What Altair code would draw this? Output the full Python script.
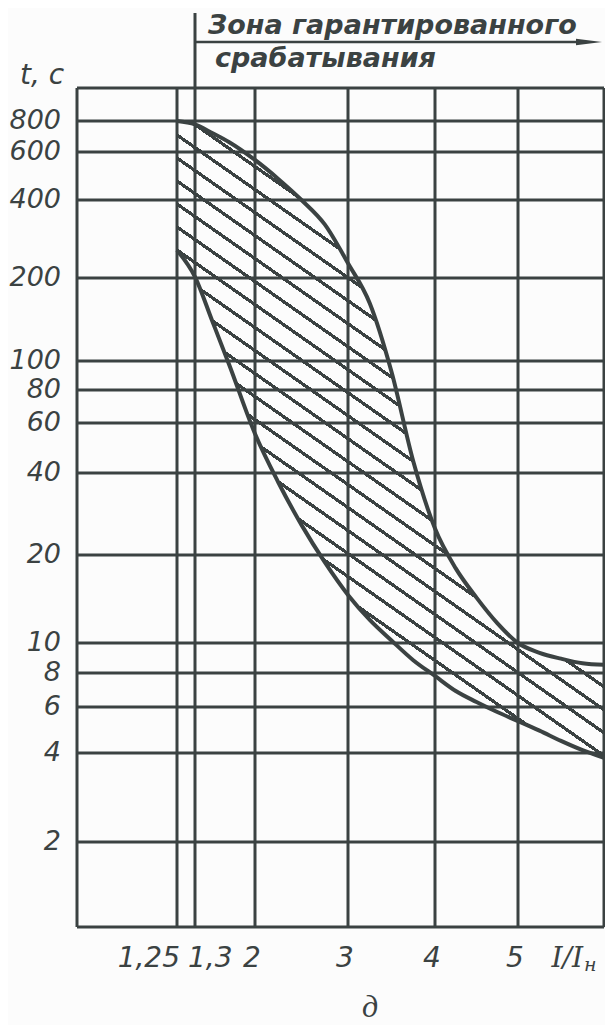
import altair as alt
import pandas as pd

# ---------------- data ----------------
ratio = [1.25, 1.3, 1.5, 1.7, 2.0, 2.25, 2.5, 2.75, 3.0, 3.25, 3.5, 3.75,
         4.0, 4.25, 4.5, 4.75, 5.0, 5.25, 5.5, 5.75, 6.0]
t_max = [800, 775, 716, 657, 561, 478, 400, 322, 228, 162, 92, 44,
         25, 18, 14.3, 11.7, 10, 9.3, 8.9, 8.6, 8.5]
t_min = [256, 202, 140, 97, 55, 37, 25.8, 18.9, 14.6, 12, 10.2, 8.8,
         7.8, 6.87, 6.26, 5.74, 5.3, 4.87, 4.45, 4.1, 3.85]

x_ticks = [1.25, 1.3, 2, 3, 4, 5]
x_tick_labels = ["1,25", "1,3", "2", "3", "4", "5"]
y_ticks = [2, 4, 6, 8, 10, 20, 40, 60, 80, 100, 200, 400, 600, 800]
y_tick_labels = ["2", "4", "6", "8", "10", "20", "40", "60", "80", "100",
                 "200", "400", "600", "800"]
x_grid = [1.0, 1.25, 1.3, 2, 3, 4, 5, 6]
y_grid = [1, 2, 4, 6, 8, 10, 20, 40, 60, 80, 100, 200, 400, 600, 800, 1000]

title_1 = "Зона гарантированного"
title_2 = "срабатывания"
y_title = "t, с"
x_title = "I/I"
x_title_sub = "н"
panel = "д"

# ---------------- style ----------------
INK = "#3b4242"
BG = "#fcfcfc"
W, H = 527, 839
GRID_W = 3

# hand-drawn (non-uniform) axes: piecewise scales
x_scale = alt.Scale(type="linear", domain=x_grid,
                    range=[0, 100, 118, 178, 271, 358, 441, W],
                    nice=False, zero=False)
y_scale = alt.Scale(type="log", domain=y_grid,
                    range=[839, 754, 665, 619, 585, 555, 467, 385, 335, 302,
                           273, 190, 112, 64, 33, 0],
                    nice=False)

# hatch pattern as a striped linear gradient (objectBoundingBox units)
hatch_slope = 0.7       # dy/dx in pixels
hatch_period = 23.0     # vertical distance between hatch lines, px
hatch_thick = 4.0       # vertical thickness of a hatch line, px
bw, bh = 427.0, 637.0   # approx. bounding box of the hatched zone, px
vx = hatch_slope * bw / bh
vy = -1.0
s = (1 + vx) / (vx * vx + 1)
gx, gy = vx * s, vy * s
dt_per_px = abs(gy) / (bh * (gx * gx + gy * gy))
period_t = hatch_period * dt_per_px
thick_t = hatch_thick * dt_per_px
stops = []
clear = "rgba(59,66,66,0)"
k = 0.0
while k < 1.0:
    b = min(k + thick_t, 1.0)
    stops += [alt.GradientStop(offset=k, color=INK),
              alt.GradientStop(offset=b, color=INK),
              alt.GradientStop(offset=b, color=clear),
              alt.GradientStop(offset=min(k + period_t, 1.0), color=clear)]
    k += period_t
hatch = alt.LinearGradient(gradient="linear", stops=stops,
                           x1=0, y1=1, x2=gx, y2=1 + gy)

df = pd.DataFrame({"x": ratio, "upper": t_max, "lower": t_min})
xt = pd.DataFrame({"v": x_ticks, "lab": x_tick_labels})
yt = pd.DataFrame({"v": y_ticks, "lab": y_tick_labels})

num_font = "DejaVu Sans"


def X(field):
    return alt.X(field, scale=x_scale, axis=None)


def Y(field):
    return alt.Y(field, scale=y_scale, axis=None)


vgrid = alt.Chart(pd.DataFrame({"x": x_grid})).mark_rule(
    color=INK, strokeWidth=GRID_W).encode(x=X("x:Q"))
hgrid = alt.Chart(pd.DataFrame({"y": y_grid})).mark_rule(
    color=INK, strokeWidth=GRID_W).encode(y=Y("y:Q"))

zone = alt.Chart(df).mark_area(fill=hatch, opacity=1, interpolate="monotone").encode(
    x=X("x:Q"), y=Y("upper:Q"), y2="lower:Q")
upper = alt.Chart(df).mark_line(color=INK, strokeWidth=4, interpolate="monotone").encode(
    x=X("x:Q"), y=Y("upper:Q"))
lower = alt.Chart(df).mark_line(color=INK, strokeWidth=4, interpolate="monotone").encode(
    x=X("x:Q"), y=Y("lower:Q"))

# tick labels (placed like the drawing: 1,25 left of its line, 1,3 right)
lab_kw = dict(font=num_font, fontStyle="italic", fontSize=28, color=INK,
              baseline="alphabetic")
xl_a = alt.Chart(xt).transform_filter(alt.datum.v == 1.25).mark_text(
    align="right", dx=3, **lab_kw).encode(
    x=X("v:Q"), y=alt.value(H + 40), text="lab:N")
xl_b = alt.Chart(xt).transform_filter(alt.datum.v == 1.3).mark_text(
    align="left", dx=-7, **lab_kw).encode(
    x=X("v:Q"), y=alt.value(H + 40), text="lab:N")
xl_c = alt.Chart(xt).transform_filter(alt.datum.v >= 2).mark_text(
    align="center", dx=-3, **lab_kw).encode(
    x=X("v:Q"), y=alt.value(H + 40), text="lab:N")
yl = alt.Chart(yt).mark_text(
    font=num_font, fontStyle="italic", fontSize=27, color=INK,
    align="right", baseline="middle").encode(
    y=Y("v:Q"), x=alt.value(-16), text="lab:N")

# annotation: zone of guaranteed operation (starts at 1,3)
start = pd.DataFrame({"x": [x_ticks[1]]})
vext = alt.Chart(start).mark_rule(color=INK, strokeWidth=GRID_W).encode(
    x=X("x:Q"), y=alt.value(-75), y2=alt.value(0))
arrow_line = alt.Chart(start).mark_rule(color=INK, strokeWidth=2.6).encode(
    x=X("x:Q"), x2=alt.value(508), y=alt.value(-46))
arrow_head = alt.Chart(start).mark_point(
    shape="M-1,-0.25L1,0L-1,0.25Z", filled=True, color=INK, opacity=1,
    size=676).encode(x=alt.value(512), y=alt.value(-46))

title_kw = dict(font="DejaVu Sans", fontStyle="italic", fontWeight="bold",
                fontSize=27, color=INK, align="left", baseline="alphabetic")
t1 = alt.Chart(pd.DataFrame({"t": [title_1]})).mark_text(**title_kw).encode(
    text="t:N", x=alt.value(131), y=alt.value(-54))
t2 = alt.Chart(pd.DataFrame({"t": [title_2]})).mark_text(**title_kw).encode(
    text="t:N", x=alt.value(138), y=alt.value(-21))
ty = alt.Chart(pd.DataFrame({"t": [y_title]})).mark_text(
    font=num_font, fontStyle="italic", fontSize=28, color=INK,
    align="center", baseline="middle").encode(
    text="t:N", x=alt.value(-35), y=alt.value(-12))
tx = alt.Chart(pd.DataFrame({"t": [x_title]})).mark_text(
    font="DejaVu Serif", fontStyle="italic", fontSize=28, color=INK,
    align="right", baseline="alphabetic").encode(
    text="t:N", x=alt.value(506), y=alt.value(879))
tx_sub = alt.Chart(pd.DataFrame({"t": [x_title_sub]})).mark_text(
    font="DejaVu Serif", fontStyle="italic", fontSize=19, color=INK,
    align="left", baseline="alphabetic").encode(
    text="t:N", x=alt.value(507), y=alt.value(883))
tp = alt.Chart(pd.DataFrame({"t": [panel]})).mark_text(
    font="Liberation Serif", fontStyle="italic", fontSize=32, color=INK,
    align="center", baseline="middle").encode(
    text="t:N", x=alt.value(293), y=alt.value(919))

chart = alt.layer(
    vgrid, hgrid, zone, upper, lower, xl_a, xl_b, xl_c, yl,
    vext, arrow_line, arrow_head, t1, t2, ty, tx, tx_sub, tp,
).properties(
    width=W, height=H,
    padding={"left": 69, "top": 80, "right": 1, "bottom": 98},
    autosize=alt.AutoSizeParams(type="none"),
).configure_view(strokeWidth=0).configure(background=BG)

chart.save("out.html", embed_options={"renderer": "svg", "actions": False})
